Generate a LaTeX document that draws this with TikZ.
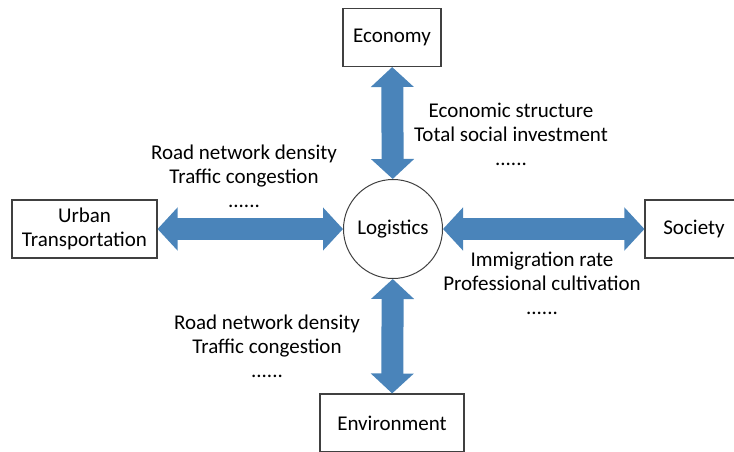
\documentclass[tikz,border=0pt]{standalone}
\usepackage{fontspec}
\setmainfont{Carlito}
\usepackage{xcolor}
\usetikzlibrary{arrows.meta}
\definecolor{LGBlue}{HTML}{4A84BA}
\definecolor{LGLine}{HTML}{404040}
\tikzset{
  box/.style={draw=LGLine,line width=1.1pt,minimum height=58pt,inner sep=0pt,align=center},
  hub/.style={draw=LGLine,line width=1pt,circle,minimum size=99pt,inner sep=0pt},
  link/.style={LGBlue,line width=22pt,{Triangle[width=42pt,length=20pt]}-{Triangle[width=42pt,length=20pt]}},
  note/.style={align=center,inner sep=0pt}
}
\begin{document}
\begin{tikzpicture}[x=1pt,y=-1pt,font=\fontsize{21}{24}\selectfont]
\path[use as bounding box] (0,0) rectangle (734,451);
\node[hub] (logistics) at (393,229) {Logistics};
\node[box,minimum width=98pt] (economy) at (392,37.5) {Economy};
\node[box,minimum width=145pt] (urban) at (84.5,229) {Urban\\Transportation};
\node[box,minimum width=98pt] (society) at (694,229) {Society};
\node[box,minimum width=144pt] (environment) at (392,423) {Environment};
\draw[link] (economy) -- (logistics);
\draw[link] (urban) -- (logistics);
\draw[link] (logistics) -- (society);
\draw[link] (logistics) -- (environment);
\node[note] (ecoNote) at (511,134.5) {Economic structure\\Total social investment\\......};
\node[note] (urbNote) at (244,176.5) {Road network density\\Traffic congestion\\......};
\node[note] (socNote) at (542,283.5) {Immigration rate\\Professional cultivation\\......};
\node[note] (envNote) at (267,346.5) {Road network density\\Traffic congestion\\......};
\end{tikzpicture}
\end{document}
